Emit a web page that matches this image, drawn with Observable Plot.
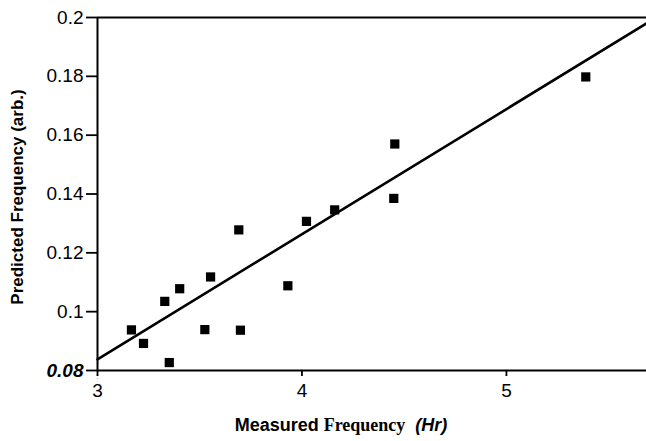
<!DOCTYPE html>
<html><head><meta charset="utf-8">
<script src="https://cdn.jsdelivr.net/npm/d3@7"></script>
<script src="https://cdn.jsdelivr.net/npm/@observablehq/plot@0.6"></script>
<style>html,body{margin:0;padding:0;background:#fff} svg{display:block}</style>
</head><body><div id="chart"></div>
<script>
// Measured vs predicted frequency
const measured  = [3.166, 3.225, 3.351, 3.329, 3.402, 3.525, 3.553, 3.691, 3.699, 3.931, 4.022, 4.160, 4.449, 4.454, 5.388];
const predicted = [0.0938, 0.0892, 0.0827, 0.1035, 0.1078, 0.0939, 0.1118, 0.1278, 0.0937, 0.1088, 0.1307, 0.1346, 0.1385, 0.1570, 0.1798];
// fitted straight line (end points)
const fitX = [3.0, 5.685];
const fitY = [0.0838, 0.198];
// ticks
const xTicks = [3, 4, 5];
const xTickLabels = ["3", "4", "5"];
const yTicks = [0.1, 0.12, 0.14, 0.16, 0.18, 0.2];
const yTickLabels = ["0.1", "0.12", "0.14", "0.16", "0.18", "0.2"];
const yBottomTick = [0.08];
const yBottomLabel = ["0.08"];
const xDomain = [3, 5.685];
const yDomain = [0.08, 0.2];

const points = measured.map((x, i) => ({x, y: predicted[i]}));
const fit = fitX.map((x, i) => ({x, y: fitY[i]}));

const chart = Plot.plot({
  width: 646, height: 441,
  marginLeft: 97, marginRight: 0, marginTop: 17, marginBottom: 71,
  style: {fontFamily: "'Liberation Sans', Arial, sans-serif", background: "#fff", color: "#000"},
  x: {domain: xDomain},
  y: {domain: yDomain},
  marks: [
    Plot.axisY({ticks: yTicks, tickFormat: d => yTickLabels[yTicks.indexOf(d)], tickSize: 11, tickPadding: 3, fontSize: 19, label: null, strokeWidth: 1.8}),
    Plot.axisY({ticks: yBottomTick, tickFormat: d => yBottomLabel[yBottomTick.indexOf(d)], tickSize: 11, tickPadding: 3, fontSize: 19, fontWeight: "bold", fontStyle: "italic", label: null, strokeWidth: 1.8}),
    Plot.axisX({ticks: xTicks, tickFormat: d => xTickLabels[xTicks.indexOf(d)], tickSize: 6, tickPadding: 7, fontSize: 19, label: null, strokeWidth: 1.8}),
    Plot.ruleX([3], {y1: 0.08, y2: 0.0772, stroke: "#000", strokeDasharray: "2,2", strokeWidth: 1.2}),
    Plot.ruleX([3], {stroke: "#000", strokeWidth: 2}),
    Plot.ruleY([0.08], {stroke: "#000", strokeWidth: 2}),
    Plot.ruleY([0.2], {stroke: "#000", strokeWidth: 2}),
    Plot.line(fit, {x: "x", y: "y", stroke: "#000", strokeWidth: 2.6}),
    Plot.dot(points, {x: "x", y: "y", symbol: "square", r: 5.2, fill: "#000", stroke: "none"})
  ]
});
document.getElementById("chart").appendChild(chart);

const svg = d3.select(chart);
svg.append("text")
  .attr("transform", "translate(23,197) rotate(-90)")
  .attr("text-anchor", "middle")
  .attr("font-size", 17)
  .attr("font-weight", "bold")
  .attr("fill", "#000")
  .text("Predicted Frequency (arb.)");
const t = svg.append("text")
  .attr("x", 341).attr("y", 431)
  .attr("text-anchor", "middle")
  .attr("font-size", 18)
  .attr("fill", "#000");
t.append("tspan").attr("font-weight", "bold").attr("font-family", "'Liberation Sans Narrow', 'Liberation Sans', Arial, sans-serif").text("Measured ");
t.append("tspan").attr("font-weight", "bold").attr("font-family", "'Liberation Serif', serif").text("Frequency");
t.append("tspan").attr("font-weight", "bold").attr("font-style", "italic").attr("dx", 10).text("(Hr)");
</script>
</body></html>
